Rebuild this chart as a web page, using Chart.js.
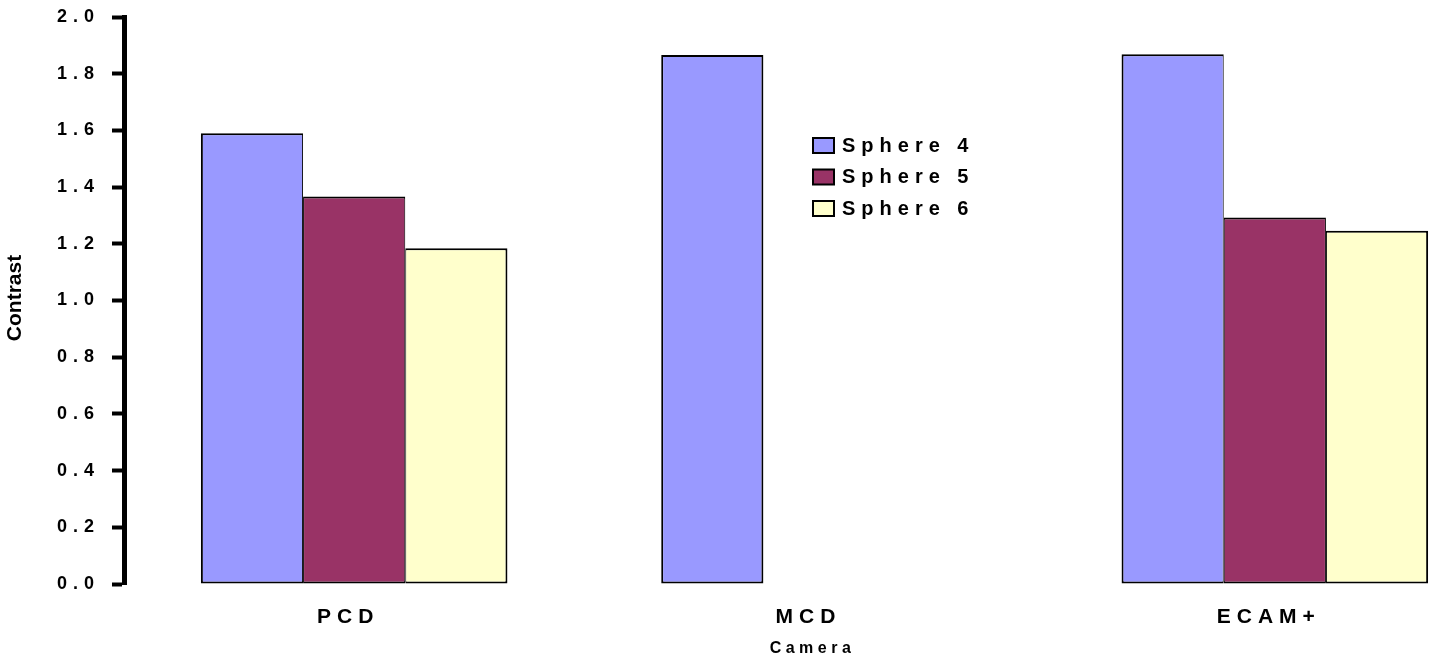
<!DOCTYPE html>
<html>
<head>
<meta charset="utf-8">
<script src="https://cdn.jsdelivr.net/npm/chart.js@4/dist/chart.umd.min.js"></script>
<style>
  html, body { margin: 0; padding: 0; overflow: hidden; background: #fff; }
  #wrap { position: relative; width: 1505px; height: 664px; }
</style>
</head>
<body>
<div id="wrap"><canvas id="myChart"></canvas></div>
<script>
const categories = ['PCD', 'MCD', 'ECAM+'];
const seriesNames = ['Sphere 4', 'Sphere 5', 'Sphere 6'];
const sphere4 = [1.59, 1.866, 1.869];
const sphere5 = [1.367, null, 1.293];
const sphere6 = [1.184, null, 1.246];
const yMin = 0, yMax = 2.0, yStep = 0.2;

const colors = ['#9999FF', '#993366', '#FFFFCC'];
const FONT = 'Liberation Sans, Arial, sans-serif';
const SPACING = '6px';

// outer edges of a group get a full border, shared edges are split
function barBorder(c) {
    const all = c.chart.data.datasets;
    const i = c.datasetIndex, k = c.dataIndex;
    const prev = i > 0 ? all[i - 1].data[k] : null;
    const next = i < all.length - 1 ? all[i + 1].data[k] : null;
    return {
        top: 2, bottom: 2,
        left: prev == null ? 2 : 1,
        right: next == null ? 2 : 1
    };
}

const spacingPlugin = {
    id: 'spacing',
    beforeLayout(chart) { chart.ctx.letterSpacing = SPACING; },
    beforeDraw(chart) { chart.ctx.letterSpacing = SPACING; },
    afterDraw(chart) {
        const ctx = chart.ctx;
        const area = chart.chartArea;
        // legend
        ctx.save();
        ctx.letterSpacing = SPACING;
        ctx.font = 'bold 20px ' + FONT;
        ctx.textBaseline = 'middle';
        ctx.textAlign = 'left';
        chart.data.datasets.forEach((ds, i) => {
            const y = 138 + i * 31.5;
            ctx.fillStyle = ds.backgroundColor;
            ctx.fillRect(813, y, 21, 15);
            ctx.strokeStyle = '#000';
            ctx.lineWidth = 2;
            ctx.strokeRect(813, y, 21, 15);
            ctx.fillStyle = '#000';
            ctx.fillText(ds.label, 842, y + 8);
        });
        ctx.restore();
        // x title
        ctx.save();
        ctx.letterSpacing = '4.5px';
        ctx.font = 'bold 16px ' + FONT;
        ctx.fillStyle = '#000';
        ctx.textAlign = 'center';
        ctx.textBaseline = 'middle';
        ctx.fillText('Camera', (area.left + area.right) / 2 - 2, 649);
        ctx.restore();
        // y title
        ctx.save();
        ctx.letterSpacing = '0px';
        ctx.font = 'bold 21px ' + FONT;
        ctx.fillStyle = '#000';
        ctx.textAlign = 'center';
        ctx.textBaseline = 'middle';
        ctx.translate(15, 298);
        ctx.rotate(-Math.PI / 2);
        ctx.fillText('Contrast', 0, 0);
        ctx.restore();
    }
};

const ctx = document.getElementById('myChart');
new Chart(ctx, {
    type: 'bar',
    data: {
        labels: categories,
        datasets: [sphere4, sphere5, sphere6].map((d, i) => ({
            label: seriesNames[i],
            data: d,
            backgroundColor: colors[i],
            borderColor: '#000',
            borderWidth: barBorder,
            borderSkipped: false
        }))
    },
    options: {
        responsive: true,
        maintainAspectRatio: false,
        animation: false,
        layout: { padding: { top: 17, left: 0, right: 0, bottom: 0 } },
        datasets: {
            bar: { categoryPercentage: 0.666, barPercentage: 1.0 }
        },
        plugins: {
            legend: { display: false },
            tooltip: { enabled: false }
        },
        scales: {
            x: {
                afterFit(scale) {
                    scale.height = 80;
                    scale.paddingLeft = 0;
                    scale.paddingRight = 0;
                },
                grid: { display: false, drawTicks: false },
                border: { display: false },
                ticks: {
                    color: '#000',
                    maxRotation: 0,
                    padding: 21,
                    labelOffset: -6,
                    font: { family: FONT, size: 21, weight: 'bold' }
                }
            },
            y: {
                min: yMin,
                max: yMax,
                afterFit(scale) {
                    scale.width = 124;
                    scale.paddingTop = 0;
                    scale.paddingBottom = 0;
                },
                grid: {
                    display: true,
                    drawOnChartArea: false,
                    drawTicks: true,
                    tickLength: 12,
                    tickWidth: 4,
                    tickColor: '#000',
                    color: '#000'
                },
                border: { display: true, color: '#000', width: 5 },
                ticks: {
                    stepSize: yStep,
                    color: '#000',
                    padding: 12,
                    font: { family: FONT, size: 18, weight: 'bold' },
                    callback: (v) => Number(v).toFixed(1)
                }
            }
        }
    },
    plugins: [spacingPlugin]
});
</script>
</body>
</html>
